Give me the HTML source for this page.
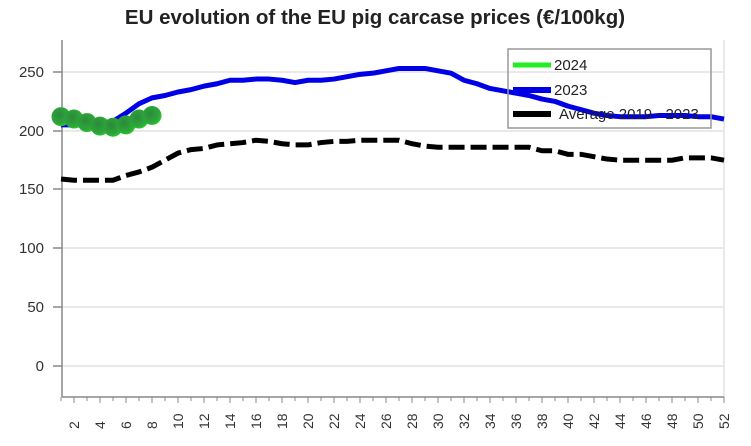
<!DOCTYPE html>
<html><head><style>body{margin:0;background:#fff}</style></head><body>
<svg width="751" height="441" xmlns="http://www.w3.org/2000/svg" font-family="Liberation Sans, DejaVu Sans, sans-serif">
<defs><radialGradient id="g" cx="0.4" cy="0.4" r="0.7"><stop offset="0" stop-color="#2a8a3a"/><stop offset="0.7" stop-color="#2da83a"/><stop offset="1" stop-color="#22e022"/></radialGradient></defs>
<text x="375" y="24" text-anchor="middle" font-size="20.5" font-weight="bold" fill="#222">EU evolution of the EU pig carcase prices (€/100kg)</text>
<g stroke="#e2e2e2" stroke-width="1.5">
<line x1="62" y1="72" x2="724" y2="72"/><line x1="62" y1="131" x2="724" y2="131"/><line x1="62" y1="189" x2="724" y2="189"/><line x1="62" y1="248" x2="724" y2="248"/><line x1="62" y1="307" x2="724" y2="307"/><line x1="62" y1="366" x2="724" y2="366"/>
<line x1="724" y1="40" x2="724" y2="397"/>
</g>
<g stroke="#888" stroke-width="1.5">
<line x1="62" y1="40" x2="62" y2="397"/><line x1="62" y1="397" x2="724" y2="397"/>
<line x1="53" y1="72" x2="62" y2="72"/><line x1="53" y1="131" x2="62" y2="131"/><line x1="53" y1="189" x2="62" y2="189"/><line x1="53" y1="248" x2="62" y2="248"/><line x1="53" y1="307" x2="62" y2="307"/><line x1="53" y1="366" x2="62" y2="366"/>
</g>
<g font-size="15" fill="#333" text-anchor="end">
<text x="44" y="77">250</text><text x="44" y="136">200</text><text x="44" y="194">150</text><text x="44" y="253">100</text><text x="44" y="312">50</text><text x="44" y="371">0</text>
</g>
<g id="ticks" stroke="#888" stroke-width="1"></g>
<g id="xl" font-size="14" fill="#333"></g>
<polyline id="avg" fill="none" stroke="#000" stroke-width="5" stroke-dasharray="16,6"/>
<polyline id="y23" fill="none" stroke="#0000e6" stroke-width="5" stroke-linejoin="round"/>
<g id="c24"></g>
<rect x="508" y="49" width="203" height="79" fill="none" stroke="#999" stroke-width="1.5"/>
<line x1="513" y1="65" x2="551" y2="65" stroke="#22ee22" stroke-width="5"/>
<text x="554" y="70" font-size="15" fill="#222">2024</text>
<line x1="513" y1="90" x2="551" y2="90" stroke="#0000e6" stroke-width="6"/>
<text x="554" y="95" font-size="15" fill="#222">2023</text>
<line x1="513" y1="114" x2="551" y2="114" stroke="#000" stroke-width="6"/>
<text x="559" y="119" font-size="15" fill="#222">Average 2019 - 2023</text>
</svg>
<script>
var X=w=>61+13*(w-1),Y=v=>366-v*1.176,ns="http://www.w3.org/2000/svg";
var a23=[205,205,205,206,208,215,223,228,230,233,235,238,240,243,243,244,244,243,241,243,243,244,246,248,249,251,253,253,253,251,249,243,240,236,234,232,230,227,225,221,218,215,213,212,212,212,213,213,213,212,212,210];
var av=[159,158,158,158,158,162,165,169,175,181,184,185,188,189,190,192,191,189,188,188,190,191,191,192,192,192,192,189,187,186,186,186,186,186,186,186,186,183,183,180,180,178,176,175,175,175,175,175,177,177,177,175];
var b=[212,210,207,204,203,205,210,213];
document.getElementById('y23').setAttribute('points',a23.map((v,i)=>X(i+1)+','+Y(v)).join(' '));
document.getElementById('avg').setAttribute('points',av.map((v,i)=>X(i+1)+','+Y(v)).join(' '));
var c=document.getElementById('c24');
b.forEach((v,i)=>{var e=document.createElementNS(ns,'circle');e.setAttribute('cx',X(i+1));e.setAttribute('cy',Y(v));e.setAttribute('r',9.5);e.setAttribute('fill','url(#g)');c.appendChild(e);});
var t=document.getElementById('ticks'),xl=document.getElementById('xl');
for(var w=1;w<=52;w++){var l=document.createElementNS(ns,'line');l.setAttribute('x1',X(w));l.setAttribute('x2',X(w));l.setAttribute('y1',397);l.setAttribute('y2',w%2?401:403);t.appendChild(l);
if(w%2==0){var s=document.createElementNS(ns,'text');s.setAttribute('transform','translate('+(X(w)+5)+',429) rotate(-90)');s.textContent=w;xl.appendChild(s);}}
</script>
</body></html>
